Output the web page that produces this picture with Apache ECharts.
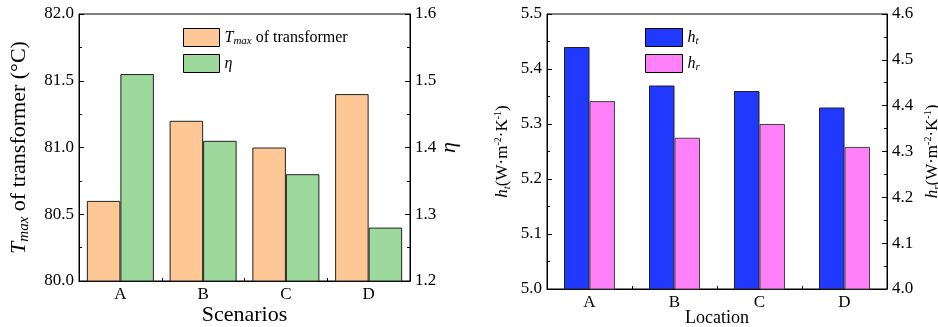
<!DOCTYPE html>
<html>
<head>
<meta charset="utf-8">
<script src="https://cdn.jsdelivr.net/npm/echarts@6/dist/echarts.min.js"></script>
<style>
  html, body { margin: 0; padding: 0; background: #fff; }
  #main { width: 938px; height: 327px; }
</style>
</head>
<body>
<div id="main"></div>
<script>
// left panel: scenarios
let scenarios = ['A', 'B', 'C', 'D'];
let tmaxValues = [80.6, 81.2, 81.0, 81.4];
let etaValues = [1.51, 1.41, 1.36, 1.28];

// right panel: locations
let locations = ['A', 'B', 'C', 'D'];
let htValues = [5.44, 5.37, 5.36, 5.33];
let hrValues = [4.41, 4.33, 4.36, 4.31];

let serif = 'Liberation Serif';
let richText = {
    n: { fontFamily: serif, fontSize: 17, color: '#000', lineHeight: 20, verticalAlign: 'middle' },
    i: { fontFamily: serif, fontSize: 17, fontStyle: 'italic', color: '#000', lineHeight: 20, verticalAlign: 'middle' },
    sub: { fontFamily: serif, fontSize: 11, fontStyle: 'italic', color: '#000', verticalAlign: 'bottom', lineHeight: 11 },
    sup: { fontFamily: serif, fontSize: 10, color: '#000', verticalAlign: 'top', lineHeight: 10 },
    big: { fontFamily: serif, fontSize: 22, color: '#000', lineHeight: 26, verticalAlign: 'middle' },
    bigi: { fontFamily: serif, fontSize: 22, fontStyle: 'italic', color: '#000', lineHeight: 26, verticalAlign: 'middle' },
    bigsub: { fontFamily: serif, fontSize: 15, fontStyle: 'italic', color: '#000', verticalAlign: 'bottom', lineHeight: 14 },
    lg: { fontFamily: serif, fontSize: 16, color: '#000', lineHeight: 18, verticalAlign: 'middle' },
    lgi: { fontFamily: serif, fontSize: 16, fontStyle: 'italic', color: '#000', lineHeight: 18, verticalAlign: 'middle' },
    lgsub: { fontFamily: serif, fontSize: 11, fontStyle: 'italic', color: '#000', verticalAlign: 'bottom', lineHeight: 10 }
};

function valueAxis(gridIndex, position, min, max, interval, name, nameGap) {
    return {
        type: 'value',
        gridIndex: gridIndex,
        position: position,
        min: min,
        max: max,
        interval: interval,
        name: name,
        nameLocation: 'middle',
        nameGap: nameGap,
        nameRotate: 90,
        nameMoveOverlap: false,
        nameTextStyle: { rich: richText, fontFamily: serif, color: '#000' },
        axisLine: { show: true, lineStyle: { color: '#000', width: 1 } },
        axisTick: { show: true, inside: true, length: 5, lineStyle: { color: '#000' } },
        minorTick: { show: true, splitNumber: 2, length: 3, lineStyle: { color: '#000' } },
        splitLine: { show: false },
        axisLabel: {
            fontFamily: serif, fontSize: 17, color: '#000', margin: 5,
            formatter: function (v) { return v.toFixed(1); }
        }
    };
}

function categoryAxis(gridIndex, data, name, nameSize, nameGap) {
    return {
        type: 'category',
        gridIndex: gridIndex,
        data: data,
        name: name,
        nameLocation: 'middle',
        nameGap: nameGap,
        nameMoveOverlap: false,
        nameTextStyle: { fontFamily: serif, fontSize: nameSize, color: '#000' },
        axisLine: { show: true, lineStyle: { color: '#000', width: 1 } },
        axisTick: { show: true, inside: true, length: 3, lineStyle: { color: '#000' } },
        axisLabel: { fontFamily: serif, fontSize: 17, color: '#000', margin: 5 }
    };
}

let chart = echarts.init(document.getElementById('main'));
let option = {
    animation: false,
    backgroundColor: '#fff',
    grid: [
        { left: 79, right: 528, top: 14, bottom: 46, outerBoundsMode: 'none', show: true, borderColor: '#000', borderWidth: 1, backgroundColor: 'transparent' },
        { left: 547, right: 51, top: 14, bottom: 38, outerBoundsMode: 'none', show: true, borderColor: '#000', borderWidth: 1, backgroundColor: 'transparent' }
    ],
    legend: [
        {
            data: ['Tmax', 'eta'],
            orient: 'vertical',
            left: 178, top: 23,
            itemWidth: 36, itemHeight: 18, itemGap: 7,
            icon: 'rect',
            itemStyle: { borderColor: '#000', borderWidth: 1 },
            textStyle: { rich: richText, fontFamily: serif, fontSize: 16, color: '#000' },
            formatter: function (name) {
                if (name === 'Tmax') return '{lgi|T}{lgsub|max}{lg| of transformer}';
                return '{lgi|η}';
            }
        },
        {
            data: ['ht', 'hr'],
            orient: 'vertical',
            left: 640, top: 23,
            itemWidth: 37, itemHeight: 18, itemGap: 7,
            icon: 'rect',
            itemStyle: { borderColor: '#000', borderWidth: 1 },
            textStyle: { rich: richText, fontFamily: serif, fontSize: 16, color: '#000' },
            formatter: function (name) {
                if (name === 'ht') return '{lgi|h}{lgsub|t}';
                return '{lgi|h}{lgsub|r}';
            }
        }
    ],
    xAxis: [
        categoryAxis(0, scenarios, 'Scenarios', 22, 23),
        categoryAxis(1, locations, 'Location', 18, 20)
    ],
    yAxis: [
        valueAxis(0, 'left', 80, 82, 0.5, '{bigi|T}{bigsub|max}{big| of transformer (°C)}', 47),
        valueAxis(0, 'right', 1.2, 1.6, 0.1, '{bigi|η}', 26),
        valueAxis(1, 'left', 5.0, 5.5, 0.1, '{i|h}{sub|t}{n|(W·m}{sup|-2}{n|·K}{sup|-1}{n|)}', 34),
        valueAxis(1, 'right', 4.0, 4.6, 0.1, '{i|h}{sub|r}{n|(W·m}{sup|-2}{n|·K}{sup|-1}{n|)}', 36)
    ],
    series: [
        {
            name: 'Tmax', type: 'bar', xAxisIndex: 0, yAxisIndex: 0,
            data: tmaxValues, barGap: '0%', barCategoryGap: '19%',
            itemStyle: { color: '#FDC896', borderColor: '#222', borderWidth: 1 }
        },
        {
            name: 'eta', type: 'bar', xAxisIndex: 0, yAxisIndex: 1,
            data: etaValues, barGap: '0%', barCategoryGap: '19%',
            itemStyle: { color: '#9DD89C', borderColor: '#222', borderWidth: 1 }
        },
        {
            name: 'ht', type: 'bar', xAxisIndex: 1, yAxisIndex: 2,
            data: htValues, barGap: '0%', barCategoryGap: '40%',
            itemStyle: { color: '#2139FF', borderColor: '#222', borderWidth: 1 }
        },
        {
            name: 'hr', type: 'bar', xAxisIndex: 1, yAxisIndex: 3,
            data: hrValues, barGap: '0%', barCategoryGap: '40%',
            itemStyle: { color: '#FF80F8', borderColor: '#444', borderWidth: 1 }
        }
    ]
};
chart.setOption(option);
</script>
</body>
</html>
